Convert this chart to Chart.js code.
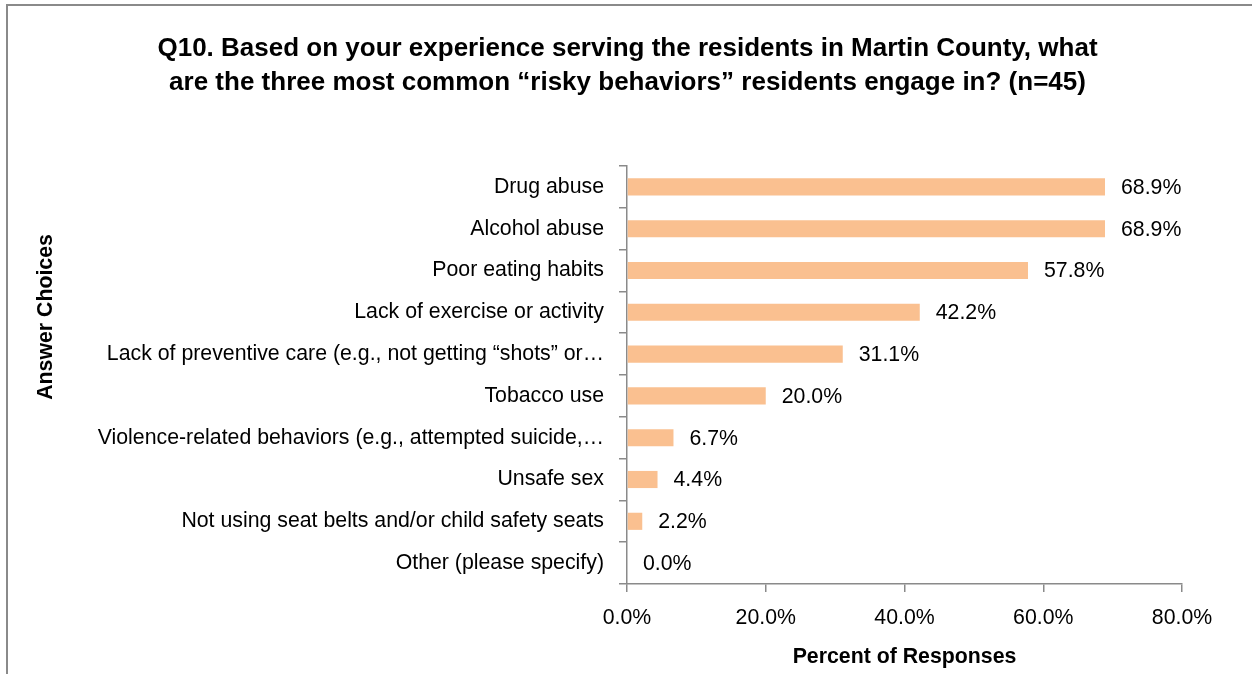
<!DOCTYPE html>
<html>
<head>
<meta charset="utf-8">
<script src="https://cdn.jsdelivr.net/npm/chart.js@4/dist/chart.umd.min.js"></script>
<style>
  html, body { margin: 0; padding: 0; background: #ffffff; overflow: hidden; }
  #wrap { position: relative; width: 1252px; height: 674px; }
  #frame { position: absolute; left: 6px; top: 4px; right: -10px; bottom: -10px;
           border-left: 2px solid #8a8a8a; border-top: 2px solid #8a8a8a; pointer-events: none; }
  canvas { position: absolute; left: 0; top: 0; }
</style>
</head>
<body>
<div id="wrap">
  <canvas id="c" width="1252" height="674"></canvas>
  <div id="frame"></div>
</div>
<script>
// ---- data ----
const titleLines = [
  "Q10. Based on your experience serving the residents in Martin County, what",
  "are the three most common \u201crisky behaviors\u201d residents engage in? (n=45)"
];
const categories = [
  "Drug abuse",
  "Alcohol abuse",
  "Poor eating habits",
  "Lack of exercise or activity",
  "Lack of preventive care (e.g., not getting \u201cshots\u201d or\u2026",
  "Tobacco use",
  "Violence-related behaviors (e.g., attempted suicide,\u2026",
  "Unsafe sex",
  "Not using seat belts and/or child safety seats",
  "Other (please specify)"
];
const percentValues = [68.9, 68.9, 57.8, 42.2, 31.1, 20.0, 6.7, 4.4, 2.2, 0.0];
const xTickValues = [0, 20, 40, 60, 80];
const xAxisTitle = "Percent of Responses";
const yAxisTitle = "Answer Choices";

// ---- font selection ----
function fontAvailable(name) {
  const ctx = document.createElement('canvas').getContext('2d');
  const s = 'Lack of exercise or activity 0123456789';
  let same = true;
  for (const fb of ['serif', 'monospace']) {
    ctx.font = '26px ' + fb;
    const w1 = ctx.measureText(s).width;
    ctx.font = '26px "' + name + '", ' + fb;
    const w2 = ctx.measureText(s).width;
    if (Math.abs(w1 - w2) > 0.5) same = false;
  }
  return !same;
}
const hasNarrow = fontAvailable('Liberation Sans Narrow');
const FAMILY = hasNarrow ? '"Liberation Sans Narrow", "Arial Narrow", sans-serif' : '"Liberation Sans", Arial, sans-serif';
const K = hasNarrow ? 1 : 0.82;
const baseSize = Math.round(26 * K * 10) / 10;
const titleSize = hasNarrow ? 29 : 26;

const AXIS = '#8a8a8a';
const BAR = '#FAC090';

const dataLabels = {
  id: 'dataLabels',
  afterDatasetsDraw(chart) {
    const ctx = chart.ctx;
    const meta = chart.getDatasetMeta(0);
    ctx.save();
    ctx.font = baseSize + 'px ' + FAMILY;
    ctx.fillStyle = '#000';
    ctx.textAlign = 'left';
    ctx.textBaseline = 'middle';
    meta.data.forEach((bar, i) => {
      const v = chart.data.datasets[0].data[i];
      ctx.fillText(v.toFixed(1) + '%', bar.x + 16, bar.y + 1);
    });
    ctx.restore();
  }
};

const yTitlePlugin = {
  id: 'yTitle',
  afterDraw(chart) {
    const ctx = chart.ctx;
    ctx.save();
    ctx.translate(46, 317);
    ctx.rotate(-Math.PI / 2);
    ctx.font = 'bold ' + baseSize + 'px ' + FAMILY;
    ctx.fillStyle = '#000';
    ctx.textAlign = 'center';
    ctx.textBaseline = 'middle';
    ctx.fillText(yAxisTitle, 0, 0);
    ctx.restore();
  }
};

new Chart(document.getElementById('c'), {
  type: 'bar',
  data: {
    labels: categories,
    datasets: [{
      data: percentValues,
      backgroundColor: BAR,
      borderWidth: 0,
      categoryPercentage: 1.0,
      barPercentage: 0.41
    }]
  },
  options: {
    indexAxis: 'y',
    responsive: false,
    animation: false,
    events: [],
    layout: { padding: { left: 73, right: 70, top: 0, bottom: 0 } },
    plugins: {
      legend: { display: false },
      tooltip: { enabled: false },
      title: {
        display: true,
        text: titleLines,
        color: '#000',
        font: { family: FAMILY, size: titleSize, weight: 'bold', lineHeight: 34 / titleSize },
        padding: { top: 32, bottom: 66 }
      }
    },
    scales: {
      x: {
        type: 'linear',
        min: 0,
        max: 80,
        afterBuildTicks(scale) { scale.ticks = xTickValues.map(v => ({ value: v })); },
        afterFit(scale) { scale.height = 90; },
        ticks: {
          color: '#000',
          font: { family: FAMILY, size: baseSize },
          padding: 13,
          maxRotation: 0,
          callback: v => Number(v).toFixed(1) + '%'
        },
        grid: { drawOnChartArea: false, drawTicks: true, tickLength: 8, color: AXIS, lineWidth: 1.5 },
        border: { display: true, color: AXIS, width: 1.5 },
        title: {
          display: true,
          text: xAxisTitle,
          color: '#000',
          font: { family: FAMILY, size: baseSize, weight: 'bold' },
          padding: { top: 0, bottom: 4 }
        }
      },
      y: {
        type: 'category',
        afterFit(scale) { scale.width = 627 - 73; },
        ticks: {
          color: '#000',
          font: { family: FAMILY, size: baseSize },
          padding: 15,
          autoSkip: false
        },
        grid: { offset: true, drawOnChartArea: false, drawTicks: true, tickLength: 8, color: AXIS, lineWidth: 1.5 },
        border: { display: true, color: AXIS, width: 1.5 },
        title: { display: false }
      }
    }
  },
  plugins: [dataLabels, yTitlePlugin]
});
</script>
</body>
</html>
